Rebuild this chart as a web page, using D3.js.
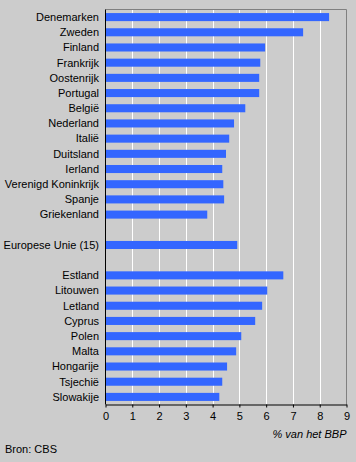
<!DOCTYPE html>
<html><head><meta charset="utf-8">
<script src="https://cdn.jsdelivr.net/npm/d3@7"></script>
<style>html,body{margin:0;padding:0;background:#cccccc;}svg{display:block;}</style>
</head><body>
<script>
const categories = ["Denemarken","Zweden","Finland","Frankrijk","Oostenrijk","Portugal","België","Nederland","Italië","Duitsland","Ierland","Verenigd Koninkrijk","Spanje","Griekenland","","Europese Unie (15)"," ","Estland","Litouwen","Letland","Cyprus","Polen","Malta","Hongarije","Tsjechië","Slowakije"];
const values = [8.35,7.38,5.96,5.78,5.74,5.74,5.22,4.8,4.62,4.5,4.36,4.4,4.43,3.8,null,4.92,null,6.64,6.04,5.85,5.59,5.07,4.88,4.54,4.36,4.25];
const ticks = [0,1,2,3,4,5,6,7,8,9];
const axisTitle = "% van het BBP";
const source = "Bron: CBS";

const W=356,H=462;
const mL=105.5,mR=346.5,mT=9.5,mB=404.5;
const svg=d3.select("body").append("svg").attr("width",W).attr("height",H)
  .style("font-family","'Liberation Sans',Arial,sans-serif").style("font-size","11px");
svg.append("rect").attr("width",W).attr("height",H).attr("fill","#cccccc");
const x=d3.scaleLinear().domain([0,9]).range([mL,mR]);
const y=d3.scaleBand().domain(categories).range([mT,mB]).paddingInner(0.47).paddingOuter(0.235);

// gridlines
svg.append("g").selectAll("line").data(ticks.filter(t=>t>0&&t<9)).join("line")
  .attr("x1",d=>Math.round(x(d))+0.5).attr("x2",d=>Math.round(x(d))+0.5)
  .attr("y1",mT).attr("y2",mB).attr("stroke","#ffffff").attr("stroke-width",1);
// frame top/right
svg.append("path").attr("d",`M${mL},${mT}H${mR}V${mB}`).attr("fill","none").attr("stroke","#808080");
// bars
const data=categories.map((c,i)=>({c,v:values[i]})).filter(d=>d.v!=null);
svg.append("g").selectAll("rect").data(data).join("rect")
  .attr("x",x(0)).attr("y",d=>y(d.c)).attr("width",d=>x(d.v)-x(0)).attr("height",y.bandwidth())
  .attr("fill","#3366ff");
// labels
svg.append("g").selectAll("text").data(categories.filter(c=>c.trim()!=="")).join("text")
  .attr("x",99).attr("y",d=>y(d)+y.bandwidth()/2).attr("dy","0.35em").attr("text-anchor","end")
  .attr("fill","#000").text(d=>d);
// axes lines
svg.append("line").attr("x1",mL).attr("x2",mL).attr("y1",mT).attr("y2",mB).attr("stroke","#000");
const ax=d3.axisBottom(x).tickValues(ticks).tickSize(3).tickSizeOuter(0).tickFormat(d3.format("d"));
const g=svg.append("g").attr("transform",`translate(0,${mB})`).call(ax);
g.select(".domain").attr("stroke","#000");
g.selectAll(".tick line").attr("stroke","#000");
g.selectAll("text").attr("font-size","11px").attr("font-family","'Liberation Sans',Arial,sans-serif").attr("fill","#000").attr("dy","0.9em");
svg.append("text").attr("x",mR).attr("y",438).attr("text-anchor","end").attr("font-style","italic").text(axisTitle);
svg.append("text").attr("x",5).attr("y",453).text(source);
</script>
</body></html>
